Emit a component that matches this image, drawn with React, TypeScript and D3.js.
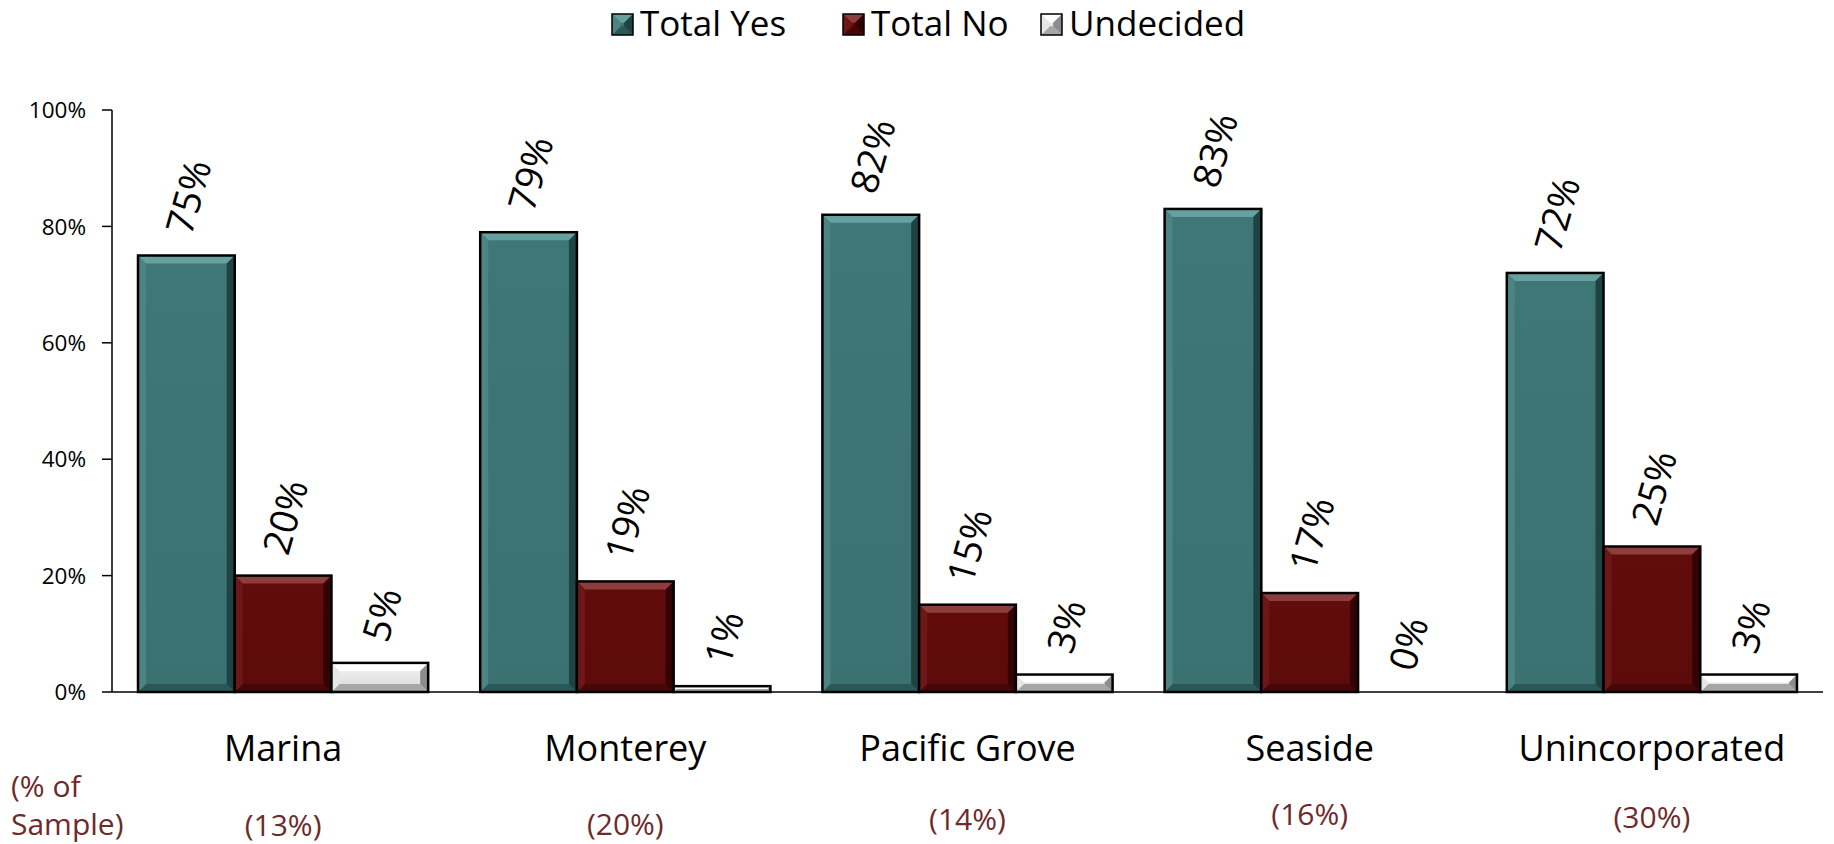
import React from 'react';
import * as d3 from 'd3';

// Survey results by area
const categories = ['Marina', 'Monterey', 'Pacific Grove', 'Seaside', 'Unincorporated'];
const sampleShares = ['(13%)', '(20%)', '(14%)', '(16%)', '(30%)'];
const seriesNames = ['Total Yes', 'Total No', 'Undecided'];
const totalYes = [75, 79, 82, 83, 72];
const totalNo = [20, 19, 15, 17, 25];
const undecided = [5, 1, 3, 0, 3];
const yTicks = [0, 20, 40, 60, 80, 100];

const seriesValues = [totalYes, totalNo, undecided];

// Layout
const W = 1834;
const H = 844;
const plot = { left: 112, right: 1823, top: 110, bottom: 692 };
const FONT = "'Open Sans', 'Noto Sans', sans-serif";
const sampleBaselines = [836, 835, 830, 825, 828];
const legendXs = [612, 843, 1041];
const LABEL_ANGLE = 74;

type Palette = { face: string; faceTop: string; top: string; left: string; right: string; bottom: string };
const palettes: Palette[] = [
  { face: '#3b7170', faceTop: '#3f7776', top: '#66a19f', left: '#4b8483', right: '#1f4342', bottom: '#2b5857' },
  { face: '#5c0a0a', faceTop: '#620c0c', top: '#8e3d3d', left: '#6e1717', right: '#330303', bottom: '#450707' },
  { face: '#d9d9d9', faceTop: '#f4f4f4', top: '#ffffff', left: '#e6e6e6', right: '#8c8c8c', bottom: '#a6a6a6' },
];

let measureCtx: CanvasRenderingContext2D | null = null;
function textWidth(s: string, size: number): number {
  if (!measureCtx && typeof document !== 'undefined') {
    measureCtx = document.createElement('canvas').getContext('2d');
  }
  if (!measureCtx) return s.length * size * 0.55;
  measureCtx.font = `${size}px ${FONT}`;
  return measureCtx.measureText(s).width;
}

function BevelBar({ x, y, w, h, p, id, bevel = 8, stroke = 2.5 }: { x: number; y: number; w: number; h: number; p: Palette; id: string; bevel?: number; stroke?: number }) {
  if (h <= 0) return null;
  const b = Math.min(bevel, h / 2, w / 2);
  const pts = (arr: number[][]) => arr.map((d) => d.join(',')).join(' ');
  return (
    <g>
      <defs>
        <linearGradient id={id} x1="0" y1="0" x2="0" y2="1">
          <stop offset="0" stopColor={p.faceTop} />
          <stop offset="1" stopColor={p.face} />
        </linearGradient>
      </defs>
      <rect x={x} y={y} width={w} height={h} fill={`url(#${id})`} />
      <polygon points={pts([[x, y], [x + w, y], [x + w - b, y + b], [x + b, y + b]])} fill={p.top} />
      <polygon points={pts([[x, y + h], [x + w, y + h], [x + w - b, y + h - b], [x + b, y + h - b]])} fill={p.bottom} />
      <polygon points={pts([[x, y], [x + b, y + b], [x + b, y + h - b], [x, y + h]])} fill={p.left} />
      <polygon points={pts([[x + w, y], [x + w - b, y + b], [x + w - b, y + h - b], [x + w, y + h]])} fill={p.right} />
      <rect x={x} y={y} width={w} height={h} fill="none" stroke="#000" strokeWidth={stroke} />
    </g>
  );
}

export default function App() {
  const x0 = d3.scaleBand<string>().domain(categories).range([plot.left, plot.right]).paddingInner(0.152).paddingOuter(0.076);
  const x1 = d3.scaleBand<string>().domain(seriesNames).range([0, x0.bandwidth()]).padding(0);
  const y = d3.scaleLinear().domain([0, 100]).range([plot.bottom, plot.top]);

  const rad = (LABEL_ANGLE * Math.PI) / 180;
  const labelSize = 38;

  const legendSize = 35;
  const sq = 21;

  return (
    <svg width={W} height={H} style={{ position: 'absolute', left: 0, top: 0, background: '#fff' }} fontFamily={FONT}>
      <rect x={0} y={0} width={W} height={H} fill="#fff" />

      {/* legend */}
      {seriesNames.map((name, i) => (
        <g key={name}>
          <BevelBar x={legendXs[i]} y={14} w={sq} h={sq} p={palettes[i]} id={`lg${i}`} bevel={sq * 0.42} stroke={1.5} />
          <text x={legendXs[i] + sq + 7} y={36} fontSize={legendSize} fill="#000">{name}</text>
        </g>
      ))}

      {/* y axis */}
      <line x1={plot.left} x2={plot.left} y1={y(100)} y2={y(0)} stroke="#000" strokeWidth={1.5} />
      {yTicks.map((t) => (
        <g key={t}>
          <line x1={plot.left - 10} x2={plot.left} y1={y(t)} y2={y(t)} stroke="#000" strokeWidth={1.5} />
          <text x={plot.left - 26} y={y(t)} dy="0.36em" textAnchor="end" fontSize={22.5} fill="#000">{`${t}%`}</text>
        </g>
      ))}

      {/* bars */}
      {categories.map((cat, ci) => (
        <g key={cat}>
          {seriesNames.map((s, si) => {
            const v = seriesValues[si][ci];
            const bx = (x0(cat) as number) + (x1(s) as number);
            const bw = x1.bandwidth();
            const top = y(v);
            return (
              <BevelBar key={s} x={bx} y={top} w={bw} h={y(0) - top} p={palettes[si]} id={`g${ci}_${si}`} />
            );
          })}
        </g>
      ))}

      {/* x axis */}
      <line x1={plot.left} x2={plot.right} y1={y(0)} y2={y(0)} stroke="#000" strokeWidth={1.5} />

      {/* value labels */}
      {categories.map((cat, ci) =>
        seriesNames.map((s, si) => {
          const v = seriesValues[si][ci];
          const label = `${v}%`;
          const L = textWidth(label, labelSize);
          const cx = (x0(cat) as number) + (x1(s) as number) + x1.bandwidth() / 2 + 2;
          const cy = y(v) - 19 - (L / 2) * Math.sin(rad) - (0.714 * labelSize / 2) * Math.cos(rad);
          return (
            <text
              key={`${cat}-${s}`}
              x={cx}
              y={cy}
              dy="0.36em"
              textAnchor="middle"
              fontSize={labelSize}
              fill="#000"
              transform={`rotate(${-LABEL_ANGLE}, ${cx}, ${cy})`}
            >
              {label}
            </text>
          );
        })
      )}

      {/* category labels */}
      {categories.map((cat) => (
        <text key={cat} x={(x0(cat) as number) + x0.bandwidth() / 2} y={761} textAnchor="middle" fontSize={36} fill="#000">
          {cat}
        </text>
      ))}

      {/* sample share */}
      <text x={11} y={797} fontSize={30} fill="#6e2a2a">(% of</text>
      <text x={11} y={835} fontSize={30} fill="#6e2a2a">Sample)</text>
      {categories.map((cat, ci) => (
        <text key={cat} x={(x0(cat) as number) + x0.bandwidth() / 2} y={sampleBaselines[ci]} textAnchor="middle" fontSize={30} fill="#6e2a2a">
          {sampleShares[ci]}
        </text>
      ))}
    </svg>
  );
}
